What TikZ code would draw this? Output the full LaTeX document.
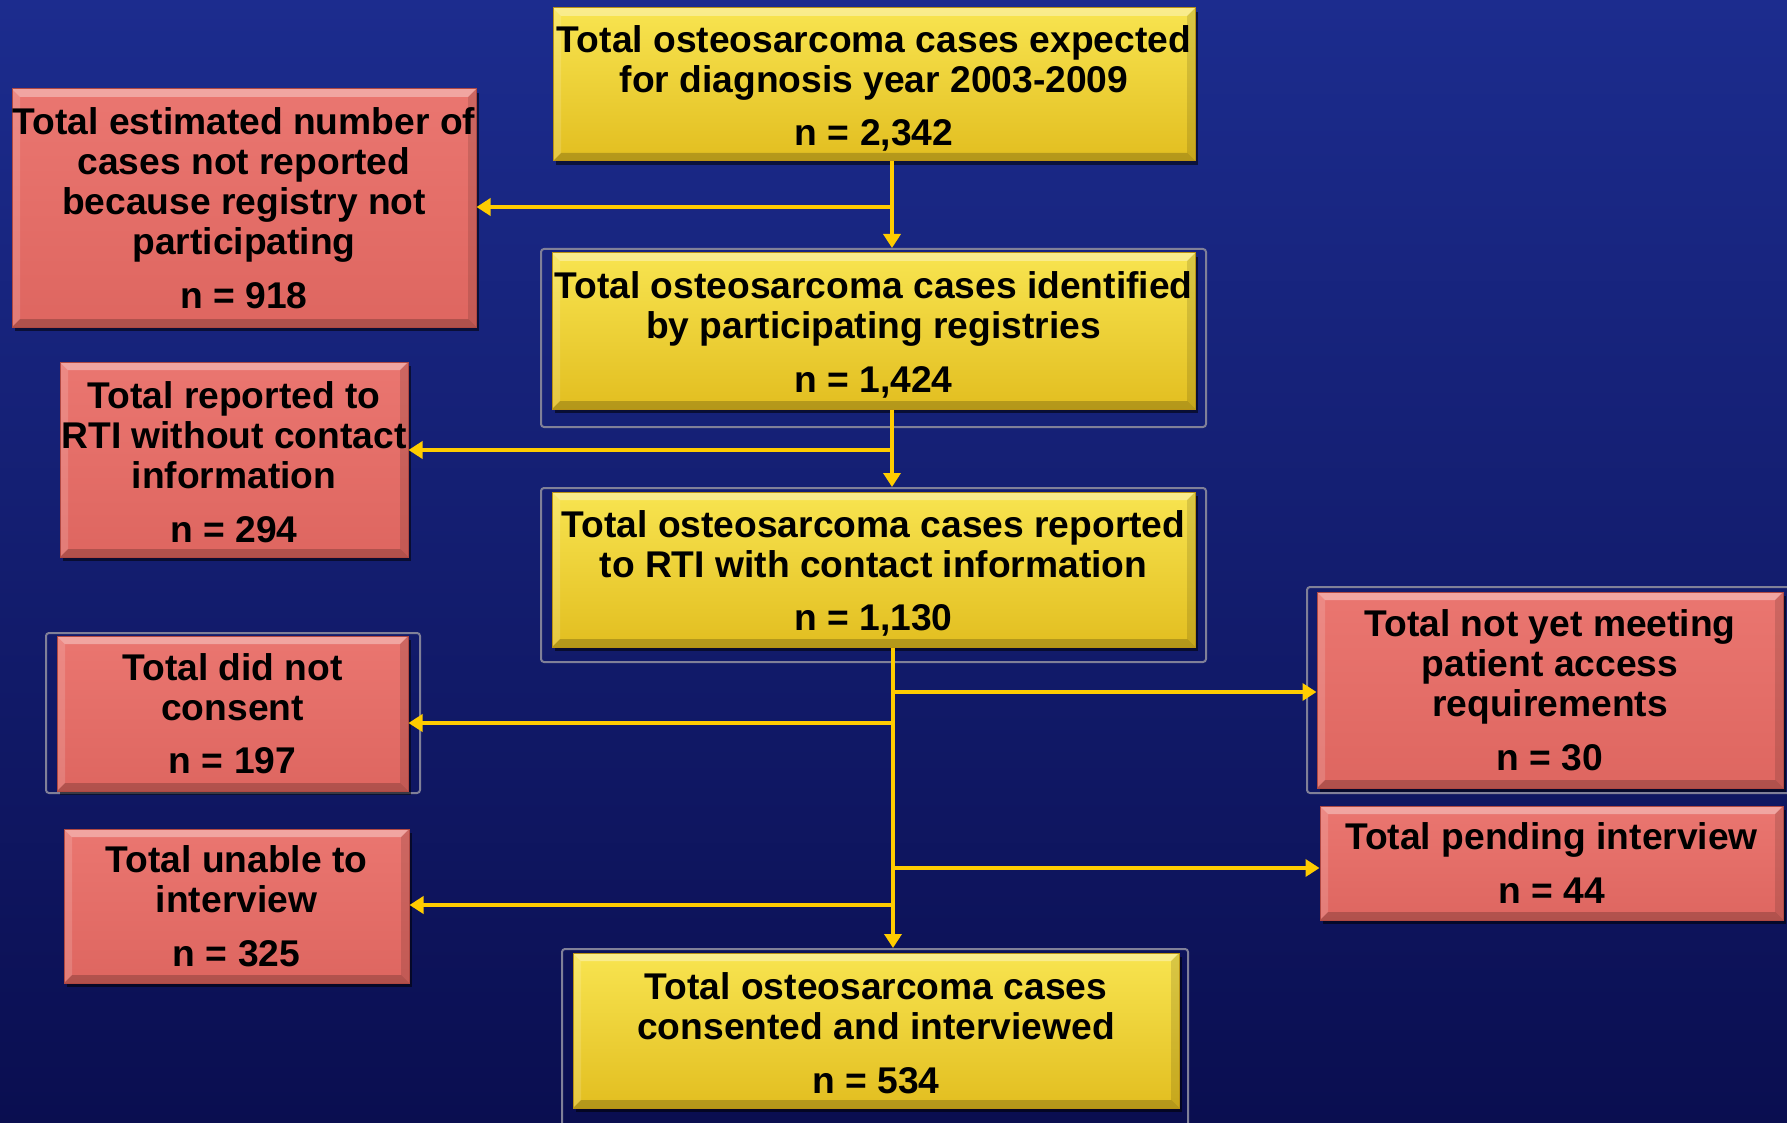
\documentclass[tikz,border=0pt]{standalone}
\usepackage{fontspec}
\setmainfont{Liberation Sans}
\usetikzlibrary{arrows.meta,shadows,calc}
\definecolor{bgtop}{RGB}{28,44,142}
\definecolor{bgbot}{RGB}{10,14,80}
\definecolor{ylwtop}{RGB}{248,228,80}
\definecolor{ylwbot}{RGB}{226,190,32}
\definecolor{ylwedge}{RGB}{185,145,20}
\definecolor{redtop}{RGB}{234,118,112}
\definecolor{redbot}{RGB}{222,102,96}
\definecolor{rededge}{RGB}{175,72,66}
\definecolor{conncol}{RGB}{255,204,0}
\definecolor{framecol}{RGB}{128,128,152}
\newcommand{\toppad}[1]{\rule{0pt}{#1pt}}
\begin{document}
\begin{tikzpicture}[x=1pt,y=-1pt,
  bevel/.style={path picture={
    \fill[white,opacity=0.35] (path picture bounding box.north west) -- (path picture bounding box.north east)
      -- ([xshift=-8pt,yshift=-8pt]path picture bounding box.north east) -- ([xshift=8pt,yshift=-8pt]path picture bounding box.north west) -- cycle;
    \fill[white,opacity=0.15] (path picture bounding box.north west) -- (path picture bounding box.south west)
      -- ([xshift=8pt,yshift=8pt]path picture bounding box.south west) -- ([xshift=8pt,yshift=-8pt]path picture bounding box.north west) -- cycle;
    \fill[black,opacity=0.12] (path picture bounding box.north east) -- (path picture bounding box.south east)
      -- ([xshift=-8pt,yshift=8pt]path picture bounding box.south east) -- ([xshift=-8pt,yshift=-8pt]path picture bounding box.north east) -- cycle;
    \fill[black,opacity=0.2] (path picture bounding box.south west) -- (path picture bounding box.south east)
      -- ([xshift=-8pt,yshift=8pt]path picture bounding box.south east) -- ([xshift=8pt,yshift=8pt]path picture bounding box.south west) -- cycle;
  }},
  box/.style={rectangle, inner sep=0pt, align=center, text=black, line width=1pt,
    font=\fontsize{37.2}{40}\selectfont\bfseries,
    drop shadow={shadow xshift=3pt, shadow yshift=-4pt, opacity=0.55, fill=black}, bevel},
  ybox/.style={box, draw=ylwedge, top color=ylwtop, bottom color=ylwbot},
  rbox/.style={box, draw=rededge, top color=redtop, bottom color=redbot},
  frame/.style={rectangle, draw=framecol, line width=2pt, rounded corners=3pt, inner sep=0pt},
  conn/.style={draw=conncol, line width=3.5pt},
  arr/.style={conn, -{Triangle[width=17pt,length=14pt]}}
]
\useasboundingbox (0,0) rectangle (1787,1123);
\fill[top color=bgtop, bottom color=bgbot] (0,0) rectangle (1787,1123);

% frames
\node[frame, minimum width=665pt, minimum height=178pt] (Cf) at (873.5,338) {};
\node[frame, minimum width=665pt, minimum height=174pt] (Ef) at (873.5,575) {};
\node[frame, minimum width=374pt, minimum height=160pt] (Ff) at (233,713) {};
\node[frame, minimum width=488pt, minimum height=206pt] (Hf) at (1551,690) {};
\node[frame, minimum width=626pt, minimum height=186pt] (Jf) at (875,1042) {};

% boxes
\node[ybox, minimum width=642pt, minimum height=153pt] (A) at (874,84.5)
  {\toppad{35}Total osteosarcoma cases expected\\for diagnosis year 2003-2009\\[13.5pt]n = 2,342};
\node[rbox, minimum width=464pt, minimum height=238pt] (B) at (244,208)
  {Total estimated number of\\cases not reported\\because registry not\\participating\\[13.5pt]n = 918};
\node[ybox, minimum width=643pt, minimum height=156pt] (C) at (873.5,331)
  {\toppad{35}Total osteosarcoma cases identified\\by participating registries\\[13.5pt]n = 1,424};
\node[rbox, minimum width=348pt, minimum height=195pt] (D) at (234,459.5)
  {\toppad{32}Total reported to\\RTI without contact\\information\\[13.5pt]n = 294};
\node[ybox, minimum width=643pt, minimum height=155pt] (E) at (873.5,569.5)
  {\toppad{35}Total osteosarcoma cases reported\\to RTI with contact information\\[13.5pt]n = 1,130};
\node[rbox, minimum width=351pt, minimum height=155pt] (F) at (232.5,713.5)
  {Total did not\\consent\\[13.5pt]n = 197};
\node[rbox, minimum width=345pt, minimum height=154pt] (G) at (236.5,906)
  {Total unable to\\interview\\[13.5pt]n = 325};
\node[rbox, minimum width=466pt, minimum height=196pt] (H) at (1550,690)
  {Total not yet meeting\\patient access\\requirements\\[13.5pt]n = 30};
\node[rbox, minimum width=463pt, minimum height=114pt] (I) at (1551.5,863)
  {Total pending interview\\[13.5pt]n = 44};
\node[ybox, minimum width=606pt, minimum height=155pt] (J) at (876,1030.5)
  {\toppad{32}Total osteosarcoma cases\\consented and interviewed\\[13.5pt]n = 534};

% branch points on the trunk
\coordinate (b1) at (892,207);
\coordinate (b2) at (892,450);
\coordinate (b3) at (893,692);
\coordinate (b4) at (893,723);
\coordinate (b5) at (893,868);
\coordinate (b6) at (893,905);

% connectors
\draw[arr] (A.south -| b1) -- (Cf.north -| b1);
\draw[arr] (b1) -- (b1 -| B.east);
\draw[arr] (C.south -| b2) -- (Ef.north -| b2);
\draw[arr] (b2) -- (b2 -| D.east);
\draw[arr] (E.south -| b3) -- (Jf.north -| b3);
\draw[arr] (b3) -- (b3 -| H.west);
\draw[arr] (b4) -- (b4 -| F.east);
\draw[arr] (b5) -- (b5 -| I.west);
\draw[arr] (b6) -- (b6 -| G.east);
\end{tikzpicture}
\end{document}
